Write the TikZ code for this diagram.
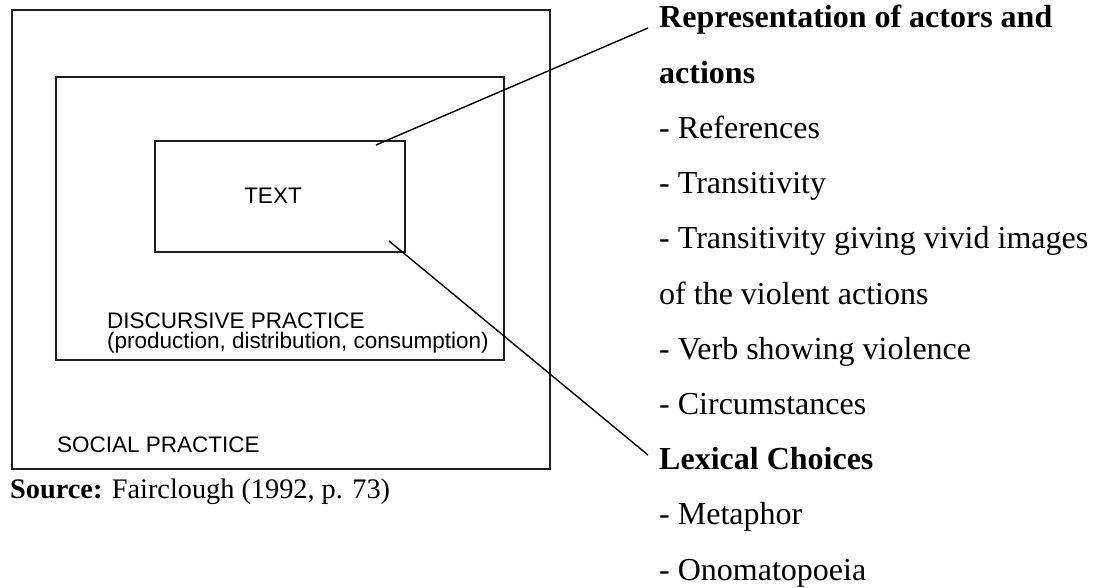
\documentclass[tikz,border=0pt]{standalone}
\usepackage{fontspec}
\setmainfont{Liberation Serif}
\newfontfamily\arialf{Liberation Sans}
\begin{document}
\begin{tikzpicture}[x=1pt,y=-1pt,
  box/.style={draw=black!88, line width=2.2pt, inner sep=0pt, anchor=north west},
  conn/.style={line width=1.4pt, black},
  rtext/.style={anchor=base west, inner sep=0pt, font=\fontsize{32}{38}\selectfont},
  rbold/.style={anchor=base west, inner sep=0pt, font=\fontsize{32}{38}\selectfont\bfseries},
  sans/.style={anchor=base west, inner sep=0pt, font=\arialf\fontsize{22.5}{26}\selectfont},
  src/.style={anchor=base west, inner sep=0pt, font=\fontsize{28.3}{32}\selectfont}]
\useasboundingbox (0,0) rectangle (1097,588);
% boxes
\node[box, minimum width=538pt, minimum height=459pt] (outer) at (11,9) {};
\node[box, minimum width=447.5pt, minimum height=283pt] (middle) at (55,76) {};
\node[box, minimum width=250.5pt, minimum height=111pt] (inner) at (153.5,140) {};
% left labels
\node[sans, anchor=base] (txt) at (273,204) {TEXT};
\node[sans] (disc) at (107,328) {DISCURSIVE PRACTICE};
\node[sans] (prod) at (107,348.5) {(production, distribution, consumption)};
\node[sans] (soc) at (57,452) {SOCIAL PRACTICE};
\node[src] (source) at (10,498) {\textbf{Source:} Fairclough (1992, p. 73)};
% right list
\node[rbold] (rep) at (659,28) {Representation of actors and};
\node[rbold] (act) at (659,83.2) {actions};
\node[rtext] (ref) at (659,138.4) {- References};
\node[rtext] (tra) at (659,193.6) {- Transitivity};
\node[rtext] (trg) at (659,248.8) {- Transitivity giving vivid images};
\node[rtext] (vio) at (659,304) {of the violent actions};
\node[rtext] (verb) at (659,359.2) {- Verb showing violence};
\node[rtext] (circ) at (659,414.4) {- Circumstances};
\node[rbold] (lex) at (659,469.6) {Lexical Choices};
\node[rtext] (met) at (659,524.8) {- Metaphor};
\node[rtext] (ono) at (659,580) {- Onomatopoeia};
% connectors
\coordinate (c1s) at (376,145);
\coordinate (c1e) at (648,28);
\coordinate (c2s) at (389,241);
\coordinate (c2e) at (648,455);
\draw[conn] (c1s) -- (c1e);
\draw[conn] (c2s) -- (c2e);
\end{tikzpicture}
\end{document}
